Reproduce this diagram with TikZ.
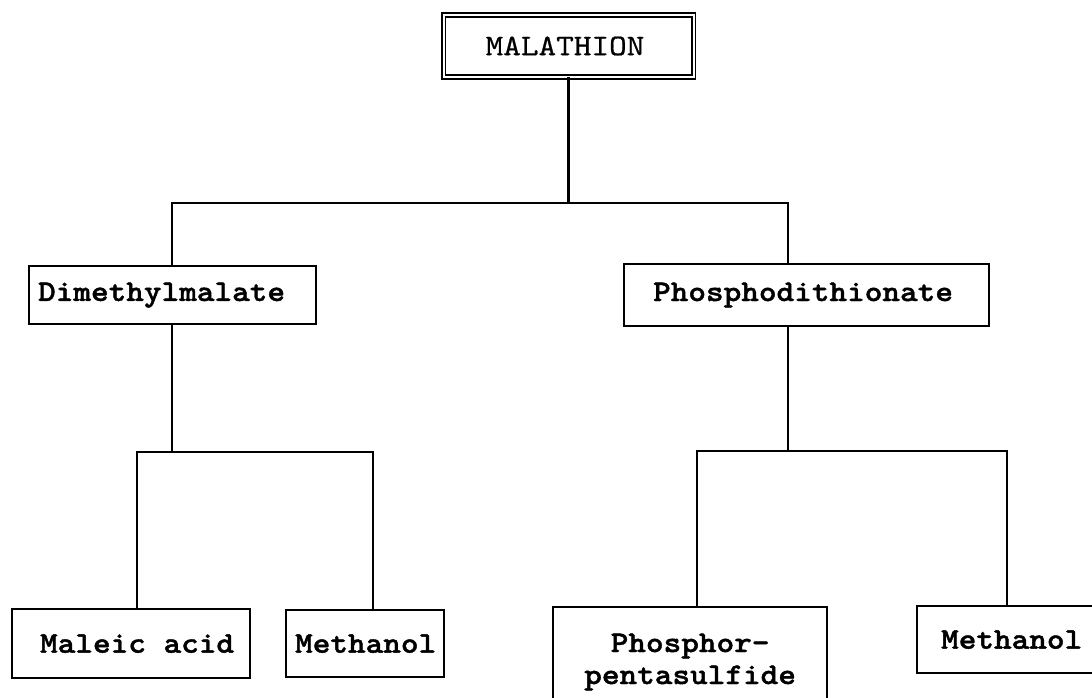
\documentclass[tikz,border=0pt]{standalone}
\usepackage{fontspec}
% slab-serif typewriter faces
\newfontfamily\typebold{lmmonolt10-bold}[Extension=.otf, FakeStretch=1.12, FakeBold=1.4]
\newfontfamily\typelight{lmmono10-regular}[Extension=.otf, FakeStretch=1.12, FakeBold=0.6]
\newcommand\gap{\phantom{a}}
\tikzset{
  chartline/.style={line width=2.2pt, line cap=rect},
  leafbox/.style={draw, line width=2.2pt, anchor=north west, inner xsep=0pt, inner ysep=0pt,
    align=left, font=\typebold\fontsize{30pt}{32pt}\selectfont},
  centerbox/.style={leafbox, align=center},
  titlebox/.style={draw, double, line width=1.8pt, double distance=2pt, inner sep=0pt,
    font=\typelight\fontsize{30pt}{32pt}\selectfont}
}
\begin{document}
\begin{tikzpicture}[x=1pt, y=-1pt]
  \useasboundingbox (0,0) rectangle (1092,697);
  \fill[white] (0,0) rectangle (1092,697);
  \clip (0,0) rectangle (1092,697);

  % top compound
  \node[titlebox, minimum width=250pt, minimum height=62pt] (mal) at (568.5,46)
    {\hspace*{-7pt}MALATHION};

  % first level
  \node[leafbox, text width=287pt, minimum height=58pt] (dim) at (28,265)
    {\hspace*{9pt}Dimethylmalate};
  \node[leafbox, text width=365pt, minimum height=62pt] (pho) at (623,263)
    {\hspace*{29pt}Phosphodithionate};

  % second level
  \node[leafbox, text width=238pt, minimum height=69pt] (mac) at (11,608)
    {\hspace*{28pt}Maleic\gap acid};
  \node[leafbox, text width=158pt, minimum height=67pt] (meA) at (285,609)
    {\hspace*{9pt}Methanol};
  \node[centerbox, text width=274pt, minimum height=110pt] (pps) at (552,606)
    {Phosphor-\\pentasulfide};
  \node[leafbox, text width=200pt, minimum height=67pt] (meB) at (916,605)
    {\hspace*{24pt}Methanol};

  % branch points
  \coordinate (busA) at (172,203);
  \coordinate (busB) at (788,203);
  \coordinate (busC) at (137,452);
  \coordinate (busD) at (373,452);
  \coordinate (busE) at (697,451);
  \coordinate (busF) at (1007,451);

  % connectors
  \draw[chartline] (mal.south) -- (mal.south |- busA);
  \draw[chartline] (dim.north -| busA) -- (busA) -- (busB) -- (pho.north -| busB);

  \draw[chartline] (dim.south -| busA) -- (busA |- busC);
  \draw[chartline] (mac.north -| busC) -- (busC) -- (busD) -- (meA.north -| busD);

  \draw[chartline] (pho.south -| busB) -- (busB |- busE);
  \draw[chartline] (pps.north -| busE) -- (busE) -- (busF) -- (meB.north -| busF);
\end{tikzpicture}
\end{document}
